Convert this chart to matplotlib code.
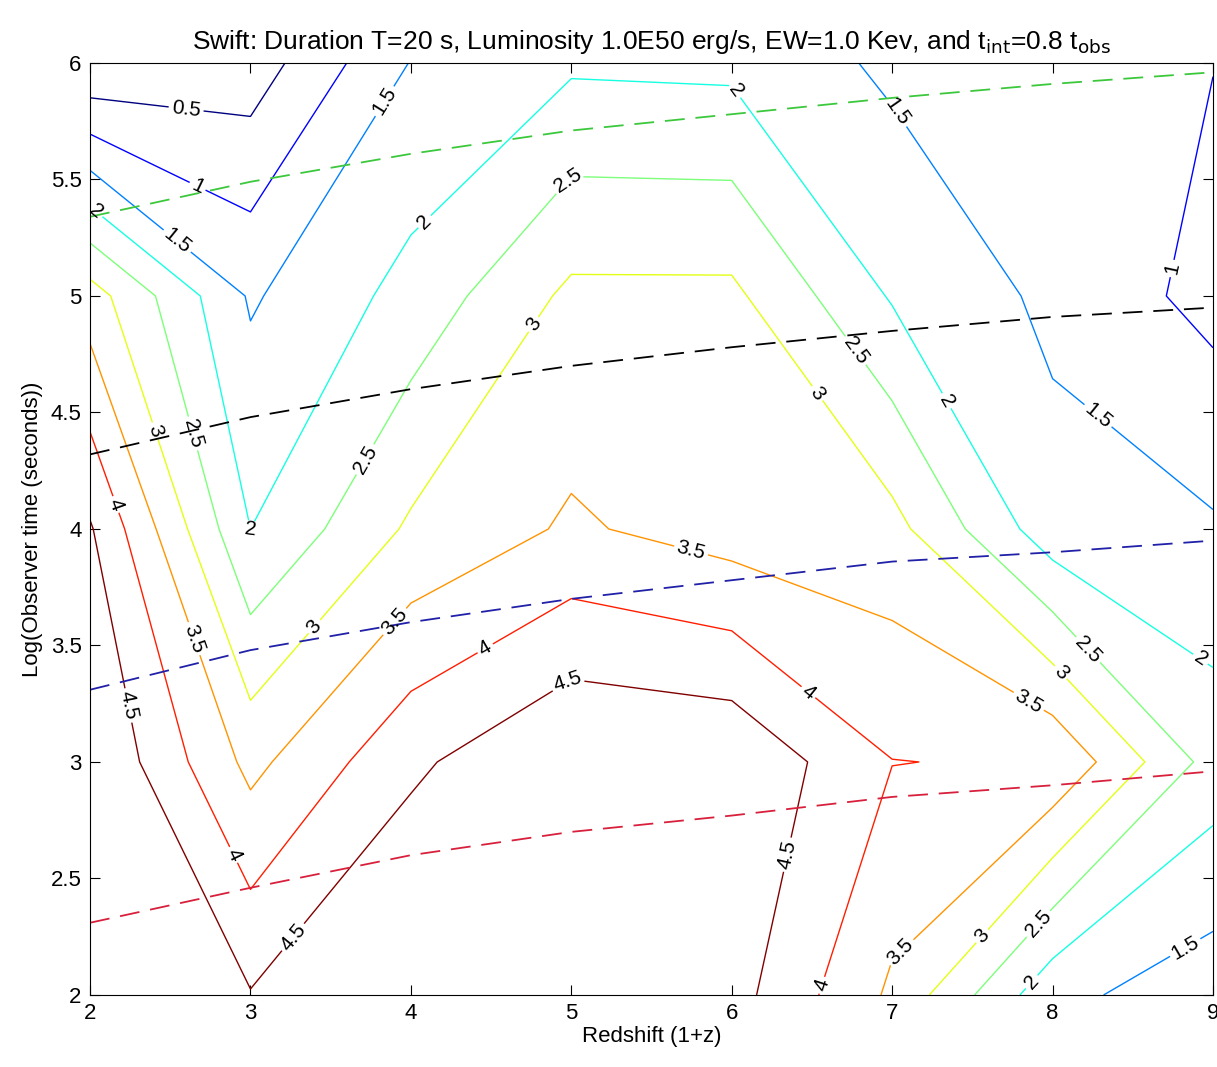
import matplotlib.pyplot as plt
import numpy as np

plt.rcParams['font.family'] = ['Liberation Sans', 'DejaVu Sans']

# grid: redshift (1+z) and log observer time
redshift = [2, 3, 4, 5, 6, 7, 8, 9]
log_time = [2, 3, 4, 5, 6]

z_row_2 = [5.20, 4.53, 5.14, 5.30, 4.70, 3.41, 1.64, 1.20]
z_row_3 = [5.01, 3.36, 4.40, 5.01, 4.94, 4.01, 3.95, 2.30]
z_row_4 = [4.55, 2.00, 3.08, 3.57, 3.27, 3.17, 1.70, 1.56]
z_row_5 = [3.23, 1.44, 2.17, 3.11, 3.11, 1.95, 1.39, 0.84]
z_row_6 = [0.02, 0.22, 1.52, 1.92, 1.88, 1.40, 1.30, 1.01]

levels = [0.5, 1, 1.5, 2, 2.5, 3, 3.5, 4, 4.5]

# dashed reference curves
green_curve = [5.34, 5.49, 5.61, 5.71, 5.78, 5.85, 5.91, 5.96]
black_curve = [4.32, 4.48, 4.60, 4.70, 4.78, 4.85, 4.91, 4.95]
blue_curve = [3.31, 3.48, 3.60, 3.70, 3.78, 3.86, 3.90, 3.95]
red_curve = [2.31, 2.46, 2.60, 2.70, 2.77, 2.85, 2.90, 2.96]

# where the inline labels sit
label_spots = {
    0.5: [(2.6, 5.81)],
    1: [(2.67, 5.47), (8.73, 5.12)],
    1.5: [(2.56, 5.25), (3.85, 5.83), (7.03, 5.79), (8.3, 4.5), (8.83, 2.2)],
    2: [(2.03, 5.36), (4.07, 5.33), (3.0, 3.97), (6.02, 5.88), (7.34, 4.55),
        (8.92, 3.44), (7.88, 2.05)],
    2.5: [(2.59, 4.40), (3.71, 4.30), (4.97, 5.5), (6.74, 4.75), (8.22, 3.48),
          (7.92, 2.3)],
    3: [(2.4, 4.42), (4.76, 4.88), (3.40, 3.58), (6.53, 4.58), (8.06, 3.39),
        (7.55, 2.26)],
    3.5: [(2.61, 3.52), (3.87, 3.62), (5.74, 3.89), (7.86, 3.27), (7.02, 2.21)],
    4: [(2.14, 4.10), (2.89, 2.6), (4.47, 3.48), (6.49, 3.31), (6.57, 2.04)],
    4.5: [(2.22, 3.24), (3.28, 2.24), (4.99, 3.33), (6.36, 2.6)],
}

Z = np.array([z_row_2, z_row_3, z_row_4, z_row_5, z_row_6])
X, Y = np.meshgrid(redshift, log_time)

fig = plt.figure(figsize=(12.17, 10.67), dpi=100)
ax = fig.add_axes([0.074, 0.0675, 0.9227, 0.8735])

norm = plt.Normalize(min(levels), max(levels))
for lev in levels:
    cs = ax.contour(X, Y, Z, levels=[lev], colors=[plt.cm.jet(norm(lev))],
                    linewidths=1.0)
    ax.clabel(cs, manual=label_spots[lev], fmt='%g', fontsize=15,
              colors='k', inline=True, inline_spacing=3)

dash = (11, 6)
ax.plot(redshift, green_curve, color='#3cc83c', ls='--', dashes=dash, lw=1.3)
ax.plot(redshift, black_curve, color='k', ls='--', dashes=dash, lw=1.3)
ax.plot(redshift, blue_curve, color='#2020a8', ls='--', dashes=dash, lw=1.3)
ax.plot(redshift, red_curve, color='#d8203c', ls='--', dashes=dash, lw=1.3)

ax.set_xlim(2, 9)
ax.set_ylim(2, 6)
ax.set_xticks(range(2, 10))
ax.set_yticks(np.arange(2, 6.01, 0.5))
ax.set_yticklabels(['2', '2.5', '3', '3.5', '4', '4.5', '5', '5.5', '6'])
ax.tick_params(direction='in', top=True, right=True, length=7, labelsize=16,
               pad=6)
ax.set_xlabel('Redshift (1+z)', fontsize=16, labelpad=1)
ax.set_ylabel('Log(Observer time (seconds))', fontsize=16, labelpad=6)
ax.set_title(r'Swift: Duration T=20 s, Luminosity 1.0E50 erg/s, EW=1.0 Kev, and t$_{\rm int}$=0.8 t$_{\rm obs}$',
             fontsize=19, pad=10)

fig.savefig('out.png', dpi=100)
